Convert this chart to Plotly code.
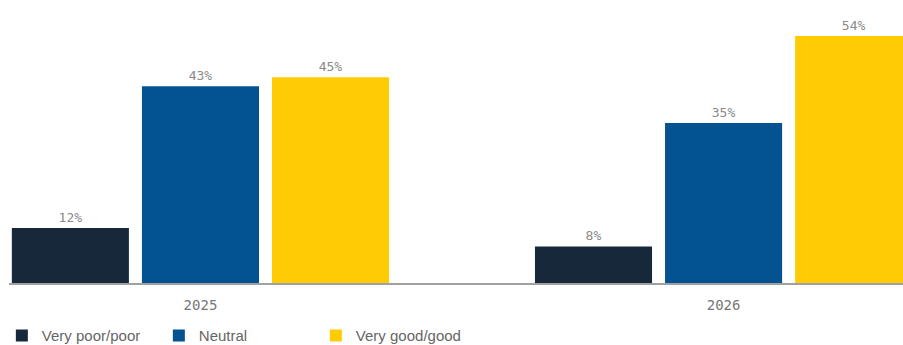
import plotly.graph_objects as go

categories = ["2025", "2026"]
series_names = ["Very poor/poor", "Neutral", "Very good/good"]
very_poor = [12, 8]
neutral = [43, 35]
very_good = [45, 54]
colors = ["#18283b", "#035292", "#ffcb05"]

fig = go.Figure()
for name, vals, col in zip(series_names, [very_poor, neutral, very_good], colors):
    fig.add_trace(go.Bar(
        x=categories, y=vals, name=name,
        marker=dict(color=col, line=dict(width=0)),
        text=[f"{v}%" for v in vals], textposition="outside",
        textfont=dict(family="DejaVu Sans Mono", size=13, color="#8a8a8a"),
        cliponaxis=False,
    ))

fig.update_layout(
    width=903, height=345,
    margin=dict(l=9, r=0, t=0, b=62, autoexpand=False),
    paper_bgcolor="white", plot_bgcolor="white",
    barmode="group", bargap=0.254, bargroupgap=0.1,
    xaxis=dict(type="category", range=[-0.366, 1.343], showgrid=False,
               showline=True, linecolor="#a0a0a0", linewidth=1.5,
               ticks="outside", ticklen=8, tickcolor="rgba(0,0,0,0)", automargin=False,
               tickfont=dict(family="DejaVu Sans Mono", size=14, color="#777777")),
    yaxis=dict(range=[0, 61.87], visible=False, showgrid=False, zeroline=False, automargin=False),
    legend=dict(orientation="h", x=-0.008, y=-0.128, xanchor="left", yanchor="top",
                font=dict(family="Liberation Sans", size=15, color="#666666"),
                entrywidth=112, entrywidthmode="pixels", itemclick=False),
    showlegend=True,
)
fig.write_html("out.html", config={"displayModeBar": False},
               post_script="document.body.style.margin='0';document.body.style.overflow='hidden';")
